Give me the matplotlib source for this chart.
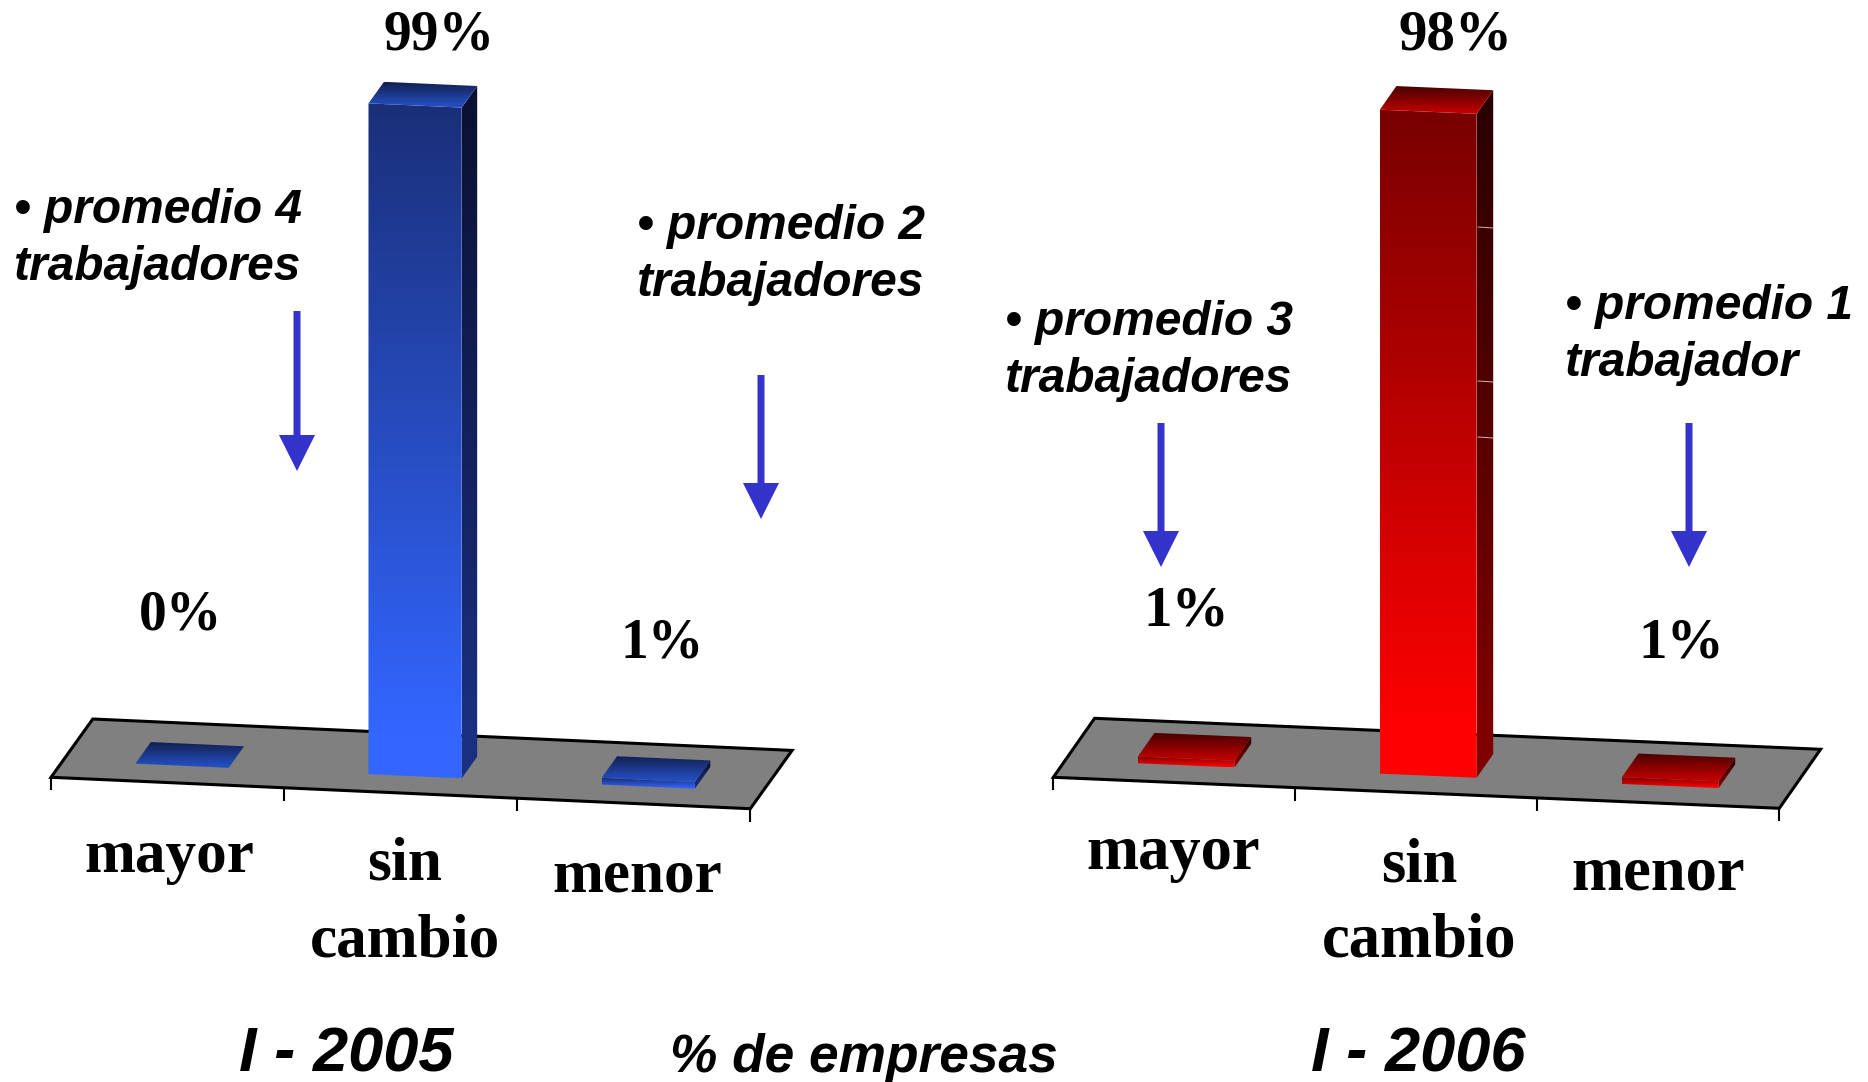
import numpy as np
from matplotlib import pyplot as plt
from matplotlib.colors import LinearSegmentedColormap
from matplotlib.patches import Polygon

categories = ['mayor', 'sin\ncambio', 'menor']
values_2005 = [0, 99, 1]
values_2006 = [1, 98, 1]
value_labels_2005 = ['0%', '99%', '1%']
value_labels_2006 = ['1%', '98%', '1%']
notes_2005 = ['• promedio 4\ntrabajadores', '• promedio 2\ntrabajadores']
notes_2006 = ['• promedio 3\ntrabajadores', '• promedio 1\ntrabajador']
titles = ['I - 2005', '% de empresas', 'I - 2006']

SERIF = 'Liberation Serif'
SANS = 'Liberation Sans'
W, H = 1868, 1082
ARROW = '#3333cc'

blue = dict(front=('#1a2f78', '#3366ff'), side=('#0a1030', '#1a3080'), top=('#141f50', '#2450c4'))
red = dict(front=('#780000', '#ff0000'), side=('#280000', '#800000'), top=('#480000', '#c00000'))

fig = plt.figure(figsize=(W / 100, H / 100), dpi=100)
ax = fig.add_axes([0, 0, 1, 1])


def shade(pts, colors):
    # vertical gradient clipped to a face
    pts = np.array(pts)
    cmap = LinearSegmentedColormap.from_list('g', [(0, colors[0]), (0.93, colors[1]), (1, colors[1])])
    grad = np.linspace(0, 1, 256).reshape(-1, 1)
    im = ax.imshow(grad, cmap=cmap, aspect='auto', interpolation='bilinear', zorder=3,
                   extent=[pts[:, 0].min(), pts[:, 0].max(), pts[:, 1].max(), pts[:, 1].min()])
    im.set_clip_path(Polygon(pts, transform=ax.transData))


def panel(origin, ex, ey, k, start, depth, values, cols):
    # oblique projection: u along categories, v in depth, h is the value
    def proj(u, v, h=0):
        return (origin[0] + u * ex[0] + v * ey[0],
                origin[1] + u * ex[1] + v * ey[1] - h * k)

    floor = [proj(0, 0), proj(3, 0), proj(3, 1), proj(0, 1)]
    ax.add_patch(Polygon(floor, closed=True, fc='#808080', ec='k', lw=2.2, zorder=1, joinstyle='miter'))
    for i in range(4):
        x, y = proj(i, 0)
        ax.plot([x, x], [y, y + 13], color='k', lw=1.5, zorder=1, solid_capstyle='butt')

    for i, val in enumerate(values):
        u0, u1 = i + start, i + start + 0.40
        v0, v1 = 0.29, 0.29 + depth
        if val > 0:
            shade([proj(u0, v0), proj(u1, v0), proj(u1, v0, val), proj(u0, v0, val)], cols['front'])
            shade([proj(u1, v0), proj(u1, v1), proj(u1, v1, val), proj(u1, v0, val)], cols['side'])
        shade([proj(u0, v0, val), proj(u1, v0, val), proj(u1, v1, val), proj(u0, v1, val)], cols['top'])


def arrow(x, y0, y1):
    ax.arrow(x, y0, 0, y1 - y0, width=7, head_width=36, head_length=36, length_includes_head=True,
             fc=ARROW, ec='none', zorder=4)


panel((51, 777.3), (233.1, 10.47), (41.8, -58.3), 6.775, 0.31, 0.37, values_2005, blue)
panel((1053.3, 777.3), (242, 10.33), (41.3, -59), 6.775, 0.30, 0.40, values_2006, red)

# the small pale marks on the red bar side
for y in [227, 381, 437]:
    ax.plot([1478, 1493], [y, y + 1], color='#d8b0b0', lw=0.7, zorder=4)

for x, y0, y1 in [(297, 311, 471), (761, 375, 519), (1161, 423, 567), (1689, 423, 567)]:
    arrow(x, y0, y1)

# value labels
for txt, x, y in zip(value_labels_2005, [181, 439, 662], [630, 50, 657]):
    ax.text(x, y, txt, family=SERIF, weight='bold', fontsize=40, ha='center', va='baseline')
for txt, x, y in zip(value_labels_2006, [1186, 1455, 1681], [625, 50, 657]):
    ax.text(x, y, txt, family=SERIF, weight='bold', fontsize=41, ha='center', va='baseline')

# category labels
for txt, x, y in zip(categories, [169, 405, 637], [870, 878, 890]):
    ax.text(x, y - 41, txt, family=SERIF, weight='bold', fontsize=44, ha='center', va='top',
            linespacing=1.48)
for txt, x, y in zip(categories, [1173, 1419, 1658], [867, 879, 887]):
    ax.text(x, y - 42, txt, family=SERIF, weight='bold', fontsize=45, ha='center', va='top',
            linespacing=1.40)

# notes
for txt, x, y in zip(notes_2005 + notes_2006, [14, 637, 1005, 1565], [188, 204, 300, 284]):
    ax.text(x, y, txt, family=SANS, weight='bold', style='italic', fontsize=34.5, ha='left', va='top',
            linespacing=1.35)

for txt, x, y, fs in zip(titles, [346, 864, 1418], [1071, 1072, 1071], [45.5, 38.3, 45.5]):
    ax.text(x, y, txt, family=SANS, weight='bold', style='italic', fontsize=fs, ha='center', va='baseline')

ax.set_xlim(0, W)
ax.set_ylim(H, 0)
ax.axis('off')

fig.savefig('out.png', dpi=100)
